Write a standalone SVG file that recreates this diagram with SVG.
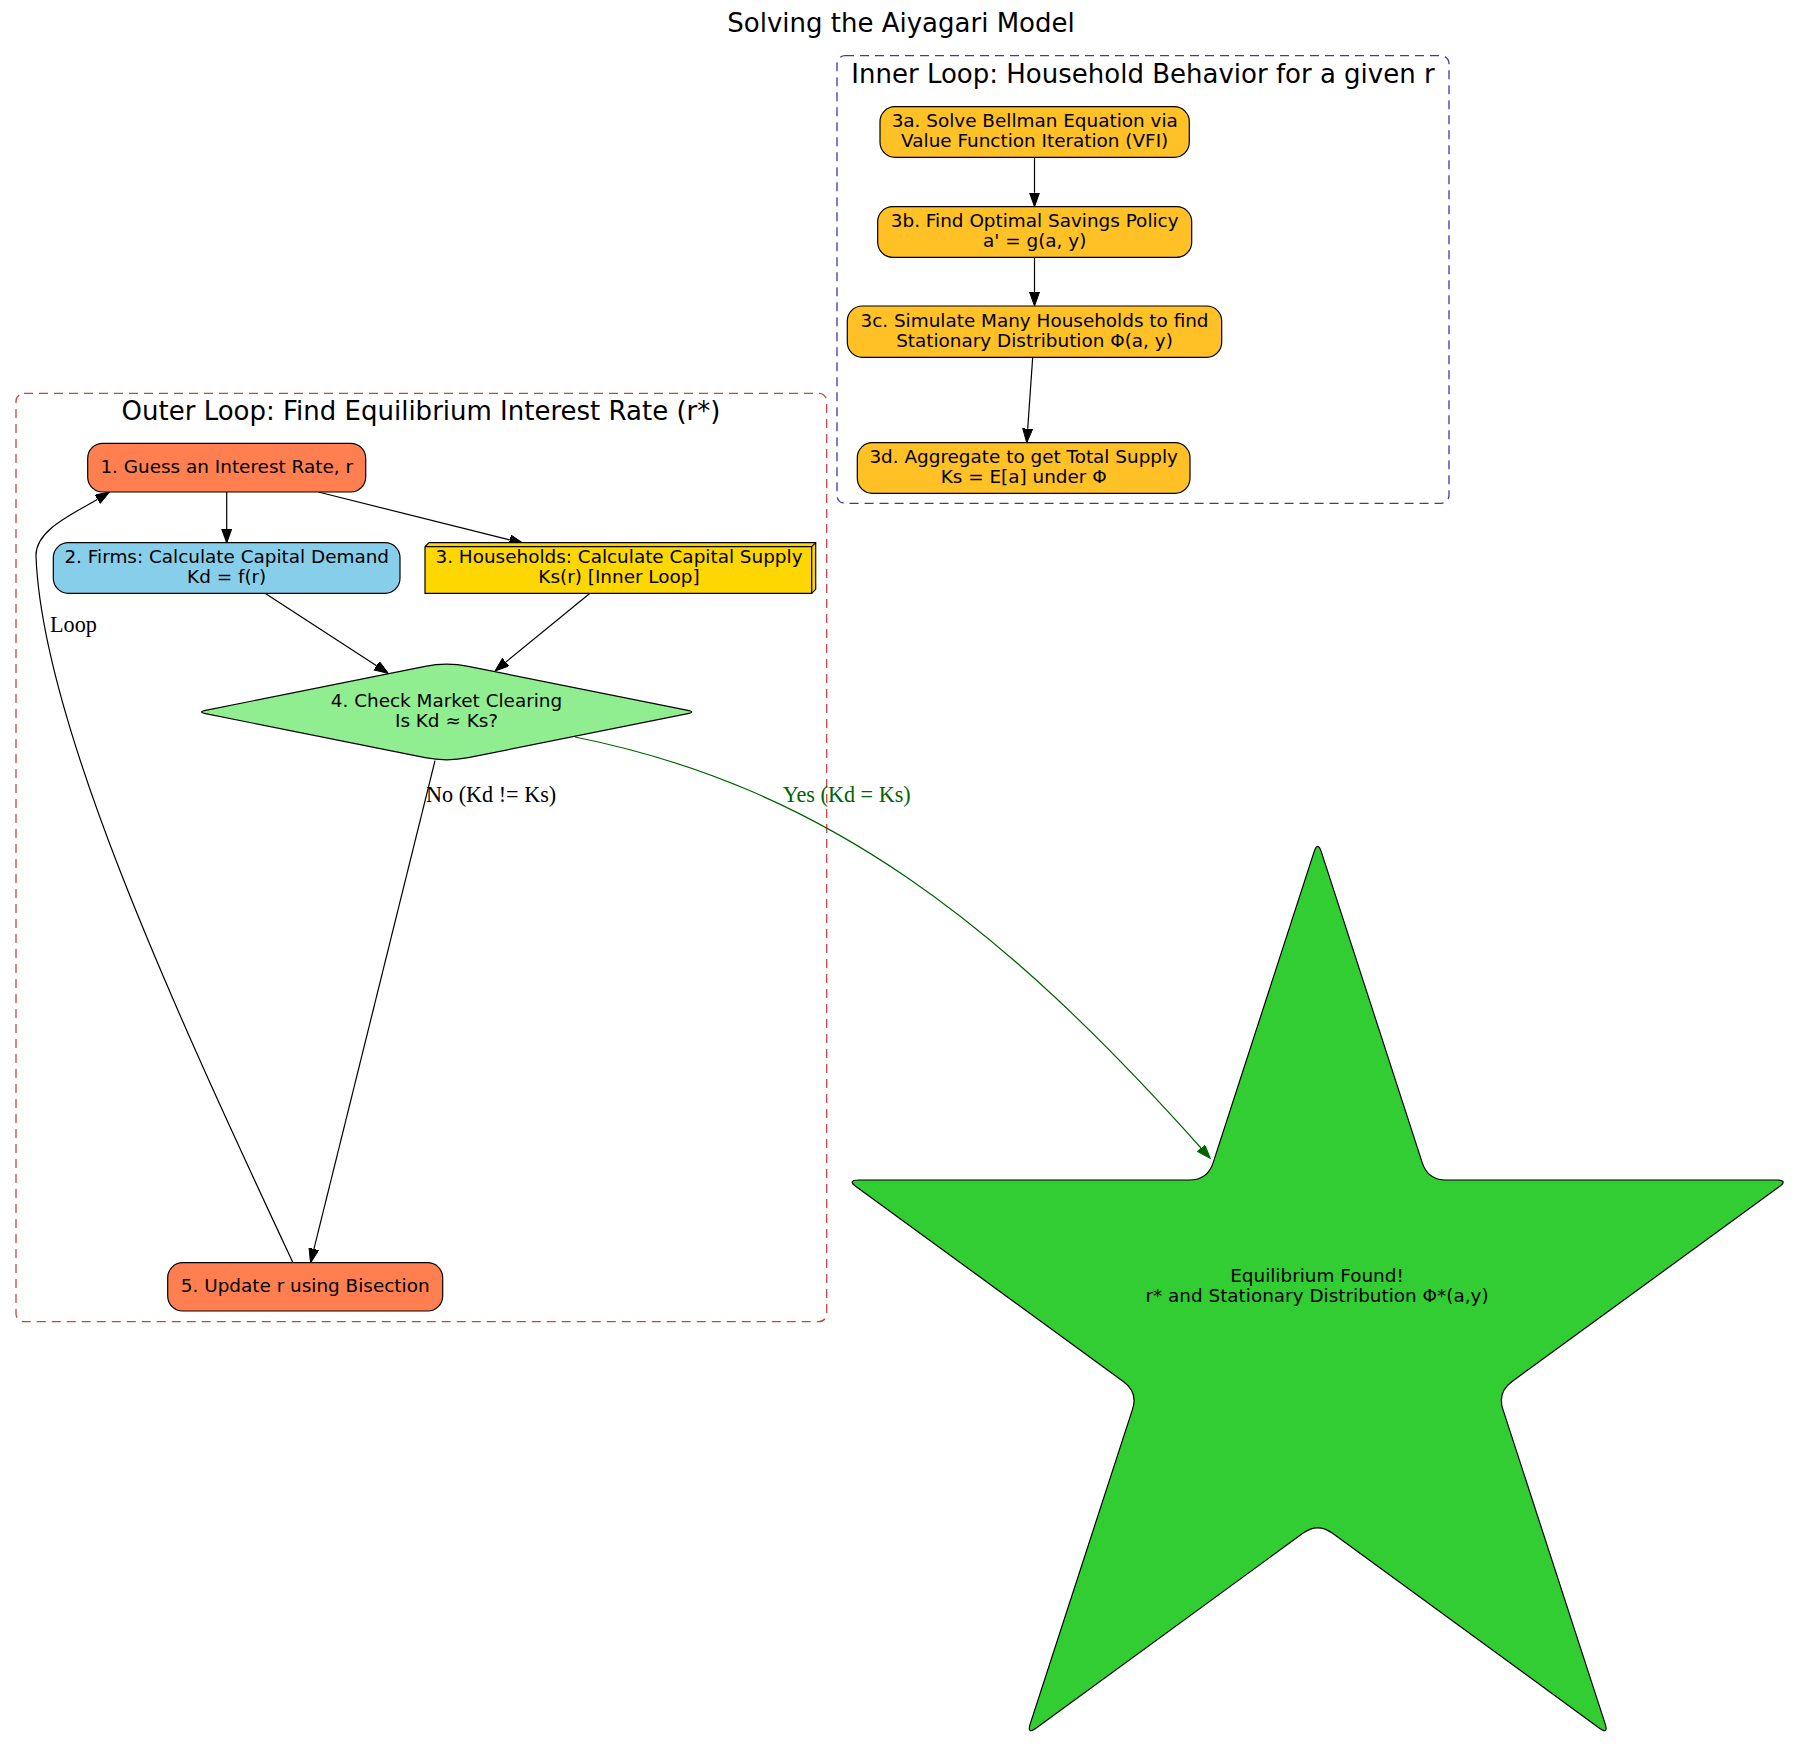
<svg xmlns="http://www.w3.org/2000/svg" width="1803" height="1749" viewBox="0 0 1803 1749">
<defs>
<style>
.t{font-family:"DejaVu Sans","Noto Sans",sans-serif;font-size:18.4px;fill:#000;text-anchor:middle}
.big{font-family:"DejaVu Sans","Noto Sans",sans-serif;font-size:26px;fill:#000;text-anchor:middle}
.el{font-family:"Liberation Serif","Times New Roman",serif;font-size:22.2px;fill:#000}
.nd{stroke:#000;stroke-width:1.2}
.e{fill:none;stroke:#000;stroke-width:1.2}
.eg{fill:none;stroke:#006400;stroke-width:1.2}
.cl{fill:none;stroke-width:1.3;stroke-dasharray:9,6}
</style>
<marker id="ah" markerUnits="userSpaceOnUse" markerWidth="16" markerHeight="12" refX="0" refY="5" orient="auto">
<path d="M0,0 L14,5 L0,10 z" fill="#000" stroke="#000" stroke-width="1"/>
</marker>
<marker id="ahg" markerUnits="userSpaceOnUse" markerWidth="16" markerHeight="12" refX="0" refY="5" orient="auto">
<path d="M0,0 L14,5 L0,10 z" fill="#006400" stroke="#006400" stroke-width="1"/>
</marker>
</defs>
<rect width="1803" height="1749" fill="#fff"/>
<text class="big" x="901" y="32">Solving the Aiyagari Model</text>

<g id="cluster_outer">
<rect class="cl" x="16" y="393.3" width="810.7" height="928.4" rx="8" stroke="#C84444"/>
<text class="big" x="421" y="420">Outer Loop: Find Equilibrium Interest Rate (r*)</text>
</g>
<g id="cluster_inner">
<rect class="cl" x="837" y="55.7" width="612" height="447.6" rx="8" stroke="#3A3AA8"/>
<text class="big" x="1143" y="82.7">Inner Loop: Household Behavior for a given r</text>
</g>

<g id="connectors">
<path class="e" d="M226.7,492 L226.7,529" marker-end="url(#ah)"/>
<path class="e" d="M318.3,492 L509.7,539.9" marker-end="url(#ah)"/>
<path class="e" d="M265,593.3 L376.6,665.7" marker-end="url(#ah)"/>
<path class="e" d="M590,593.3 L505.8,662.1" marker-end="url(#ah)"/>
<path class="e" d="M435,760.7 L313.9,1249.1" marker-end="url(#ah)"/>
<path class="e" d="M293,1262.7 C170,1000 42,720 36,556 C35.4,530 71.8,514.7 97.5,499.2" marker-end="url(#ah)"/>
<path class="eg" d="M575,737 C825,787 1001,924 1201,1148" marker-end="url(#ahg)"/>
<path class="e" d="M1034.5,157.3 L1034.5,192.7" marker-end="url(#ah)"/>
<path class="e" d="M1034.5,257.3 L1034.5,292" marker-end="url(#ah)"/>
<path class="e" d="M1032.7,357.3 L1027.7,428.7" marker-end="url(#ah)"/>
<text class="el" x="50" y="632">Loop</text>
<text class="el" x="426" y="802">No (Kd != Ks)</text>
<text class="el" x="782.7" y="801.7" style="fill:#006400">Yes (Kd = Ks)</text>
</g>

<g id="node1">
<rect class="nd" x="87.7" y="443.3" width="278" height="48.7" rx="15" fill="#FF7F50"/>
<text class="t" x="226.7" y="472.7">1. Guess an Interest Rate, r</text>
</g>
<g id="node2">
<rect class="nd" x="53.3" y="542.7" width="346.7" height="50.6" rx="15" fill="#87CEEB"/>
<text class="t" x="226.7" y="562.7">2. Firms: Calculate Capital Demand</text>
<text class="t" x="226.7" y="582.7">Kd = f(r)</text>
</g>
<g id="node3">
<path class="nd" d="M425,546.7 L429,542.7 L815.7,542.7 L815.7,589.3 L811.7,593.3 L425,593.3 Z" fill="#FFD700"/>
<path class="nd" d="M425,546.7 L811.7,546.7 L811.7,593.3 M811.7,546.7 L815.7,542.7" fill="none"/>
<text class="t" x="619" y="562.7">3. Households: Calculate Capital Supply</text>
<text class="t" x="619" y="582.7">Ks(r) [Inner Loop]</text>
</g>
<g id="node4">
<path class="nd" d="M205.5,710.4 L425.1,666.3 Q446.7,662 468.3,666.3 L687.9,710.4 Q695.7,712 687.9,713.6 L468.3,757.7 Q446.7,762 425.1,757.7 L205.5,713.6 Q197.7,712 205.5,710.4 Z" fill="#90EE90"/>
<text class="t" x="446.5" y="706.7">4. Check Market Clearing</text>
<text class="t" x="446.5" y="726.7">Is Kd ≈ Ks?</text>
</g>
<g id="node5">
<rect class="nd" x="167.7" y="1262.7" width="275" height="48.3" rx="15" fill="#FF7F50"/>
<text class="t" x="305.2" y="1291.7">5. Update r using Bisection</text>
</g>
<g id="node3a">
<rect class="nd" x="880" y="106.7" width="309.3" height="50.6" rx="15" fill="#FFC125"/>
<text class="t" x="1034.7" y="127.3">3a. Solve Bellman Equation via</text>
<text class="t" x="1034.7" y="147.3">Value Function Iteration (VFI)</text>
</g>
<g id="node3b">
<rect class="nd" x="877.7" y="206.7" width="314" height="50.6" rx="15" fill="#FFC125"/>
<text class="t" x="1034.7" y="227.3">3b. Find Optimal Savings Policy</text>
<text class="t" x="1034.7" y="247.3">a' = g(a, y)</text>
</g>
<g id="node3c">
<rect class="nd" x="847.3" y="306" width="374.4" height="51.3" rx="15" fill="#FFC125"/>
<text class="t" x="1034.5" y="326.7">3c. Simulate Many Households to find</text>
<text class="t" x="1034.5" y="346.7">Stationary Distribution Φ(a, y)</text>
</g>
<g id="node3d">
<rect class="nd" x="857.3" y="442.7" width="332.7" height="50.6" rx="15" fill="#FFC125"/>
<text class="t" x="1023.7" y="462.7">3d. Aggregate to get Total Supply</text>
<text class="t" x="1023.7" y="482.7">Ks = E[a] under Φ</text>
</g>
<g id="node_eq">
<path class="nd" fill="#32CD32" d="M1321.4,852.1 L1422.3,1162.9 Q1427.9,1180 1445.9,1180 L1776.5,1180 Q1788.5,1180 1778.8,1187.1 L1511.8,1381.7 Q1497.3,1392.3 1502.9,1409.4 L1605.1,1723.6 Q1608.8,1735 1599.1,1727.9 L1332.2,1533.1 Q1317.7,1522.5 1303.2,1533.1 L1036.3,1727.9 Q1026.6,1735 1030.3,1723.6 L1132.5,1409.4 Q1138.1,1392.3 1123.6,1381.7 L856.6,1187.1 Q846.9,1180 858.9,1180 L1189.5,1180 Q1207.5,1180 1213.1,1162.9 L1314,852.1 Q1317.7,840.7 1321.4,852.1 Z"/>
<text class="t" x="1317" y="1281.7">Equilibrium Found!</text>
<text class="t" x="1317" y="1301.7">r* and Stationary Distribution Φ*(a,y)</text>
</g>
</svg>
